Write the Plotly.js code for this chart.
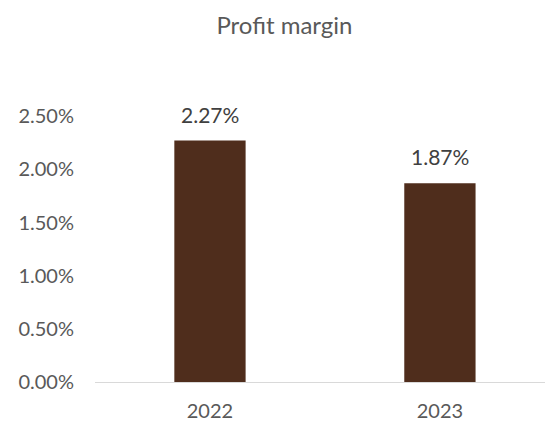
<!DOCTYPE html>
<html>
<head>
<meta charset="utf-8">
<script src="https://cdn.plot.ly/plotly-3.0.1.min.js"></script>
<style>
  html, body { margin: 0; padding: 0; background: #fff; }
  #chart { width: 547px; height: 422px; }
</style>
</head>
<body>
<div id="chart"></div>
<script>
const years = ['2022', '2023'];
const margins = [0.0227, 0.0187];
const yTicks = [0, 0.005, 0.01, 0.015, 0.02, 0.025];

const font = 'Lato, "Open Sans", sans-serif';
const pct = v => (v * 100).toFixed(2) + '%';

const trace = {
  type: 'bar',
  x: years,
  y: margins,
  width: 0.31,
  marker: { color: '#4f2d1c', line: { width: 0 } },
  hoverinfo: 'none'
};

// data labels floated a bit above each bar (category index, since '2022' reads as a number)
const labels = years.map((yr, i) => ({
  x: i,
  y: margins[i],
  text: pct(margins[i]),
  showarrow: false,
  yanchor: 'bottom',
  yshift: 12,
  font: { family: font, size: 21, color: '#404040' }
}));

const layout = {
  width: 547,
  height: 422,
  margin: { l: 95, r: 2, t: 63, b: 40 },
  paper_bgcolor: '#fff',
  plot_bgcolor: '#fff',
  showlegend: false,
  annotations: labels,
  title: {
    text: 'Profit margin',
    font: { family: font, size: 24, color: '#595959' },
    x: 0.52, xanchor: 'center',
    y: 0.94, yanchor: 'middle'
  },
  xaxis: {
    type: 'category',
    range: [-0.5, 1.457],
    showline: true,
    linecolor: '#d9d9d9',
    linewidth: 1,
    ticks: '',
    ticklabelstandoff: 11,
    tickfont: { family: font, size: 20, color: '#595959' },
    showgrid: false,
    zeroline: false
  },
  yaxis: {
    range: [0, 0.03],
    tickvals: yTicks,
    ticktext: yTicks.map(pct),
    tickfont: { family: font, size: 20, color: '#595959' },
    ticklabelstandoff: 20,
    showgrid: false,
    zeroline: false,
    showline: false,
    ticks: ''
  }
};

Plotly.newPlot('chart', [trace], layout, { displayModeBar: false, staticPlot: true });
</script>
</body>
</html>
